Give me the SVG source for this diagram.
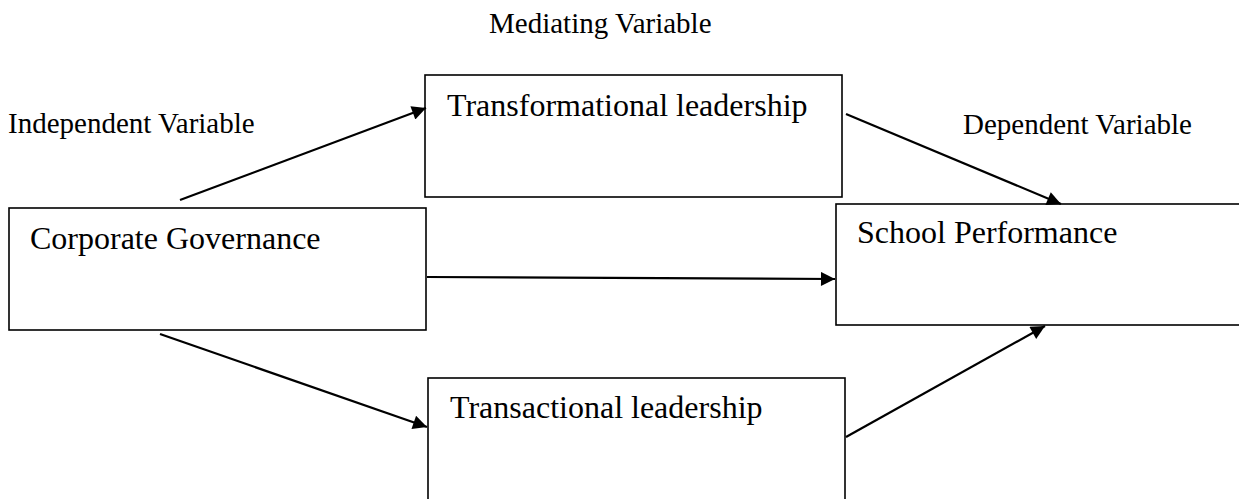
<svg xmlns="http://www.w3.org/2000/svg" width="1239" height="499" viewBox="0 0 1239 499">
  <style>
    .box { fill: #ffffff; stroke: #000000; stroke-width: 1.6; }
    .link { stroke: #000000; stroke-width: 2.2; fill: none; marker-end: url(#arrow); }
  </style>
  <defs>
    <marker id="arrow" viewBox="0 0 10 10" refX="10" refY="5" markerUnits="userSpaceOnUse" markerWidth="17" markerHeight="14" orient="auto">
      <path d="M0,0 L10,5 L0,10 Z" fill="#000000"/>
    </marker>
  </defs>
  <rect width="1239" height="499" fill="#ffffff"/>

  <!-- Column captions -->
  <g id="captions" font-family="Liberation Serif, Times New Roman, Times, serif" font-size="29" fill="#000000">
    <text x="489" y="33">Mediating Variable</text>
    <text x="8" y="133">Independent Variable</text>
    <text x="963" y="134">Dependent Variable</text>
  </g>

  <!-- Variables -->
  <g font-family="Liberation Serif, Times New Roman, Times, serif" font-size="32" fill="#000000">
    <g id="corporate-governance">
      <rect class="box" x="9" y="208" width="417" height="122"/>
      <text x="30" y="249">Corporate Governance</text>
    </g>
    <g id="transformational-leadership">
      <rect class="box" x="425" y="75" width="417" height="122"/>
      <text x="447" y="116">Transformational leadership</text>
    </g>
    <g id="transactional-leadership">
      <rect class="box" x="428" y="378" width="417" height="140"/>
      <text x="450" y="418">Transactional leadership</text>
    </g>
    <g id="school-performance">
      <rect class="box" x="836" y="204" width="420" height="121"/>
      <text x="857" y="243">School Performance</text>
    </g>
  </g>

  <!-- Relationships -->
  <g id="connectors">
    <line class="link" x1="180" y1="200" x2="426" y2="108"/>
    <line class="link" x1="846" y1="114" x2="1061" y2="204"/>
    <line class="link" x1="427" y1="277" x2="835" y2="279"/>
    <line class="link" x1="160" y1="334" x2="427" y2="427"/>
    <line class="link" x1="846" y1="437" x2="1045" y2="326"/>
  </g>
</svg>
